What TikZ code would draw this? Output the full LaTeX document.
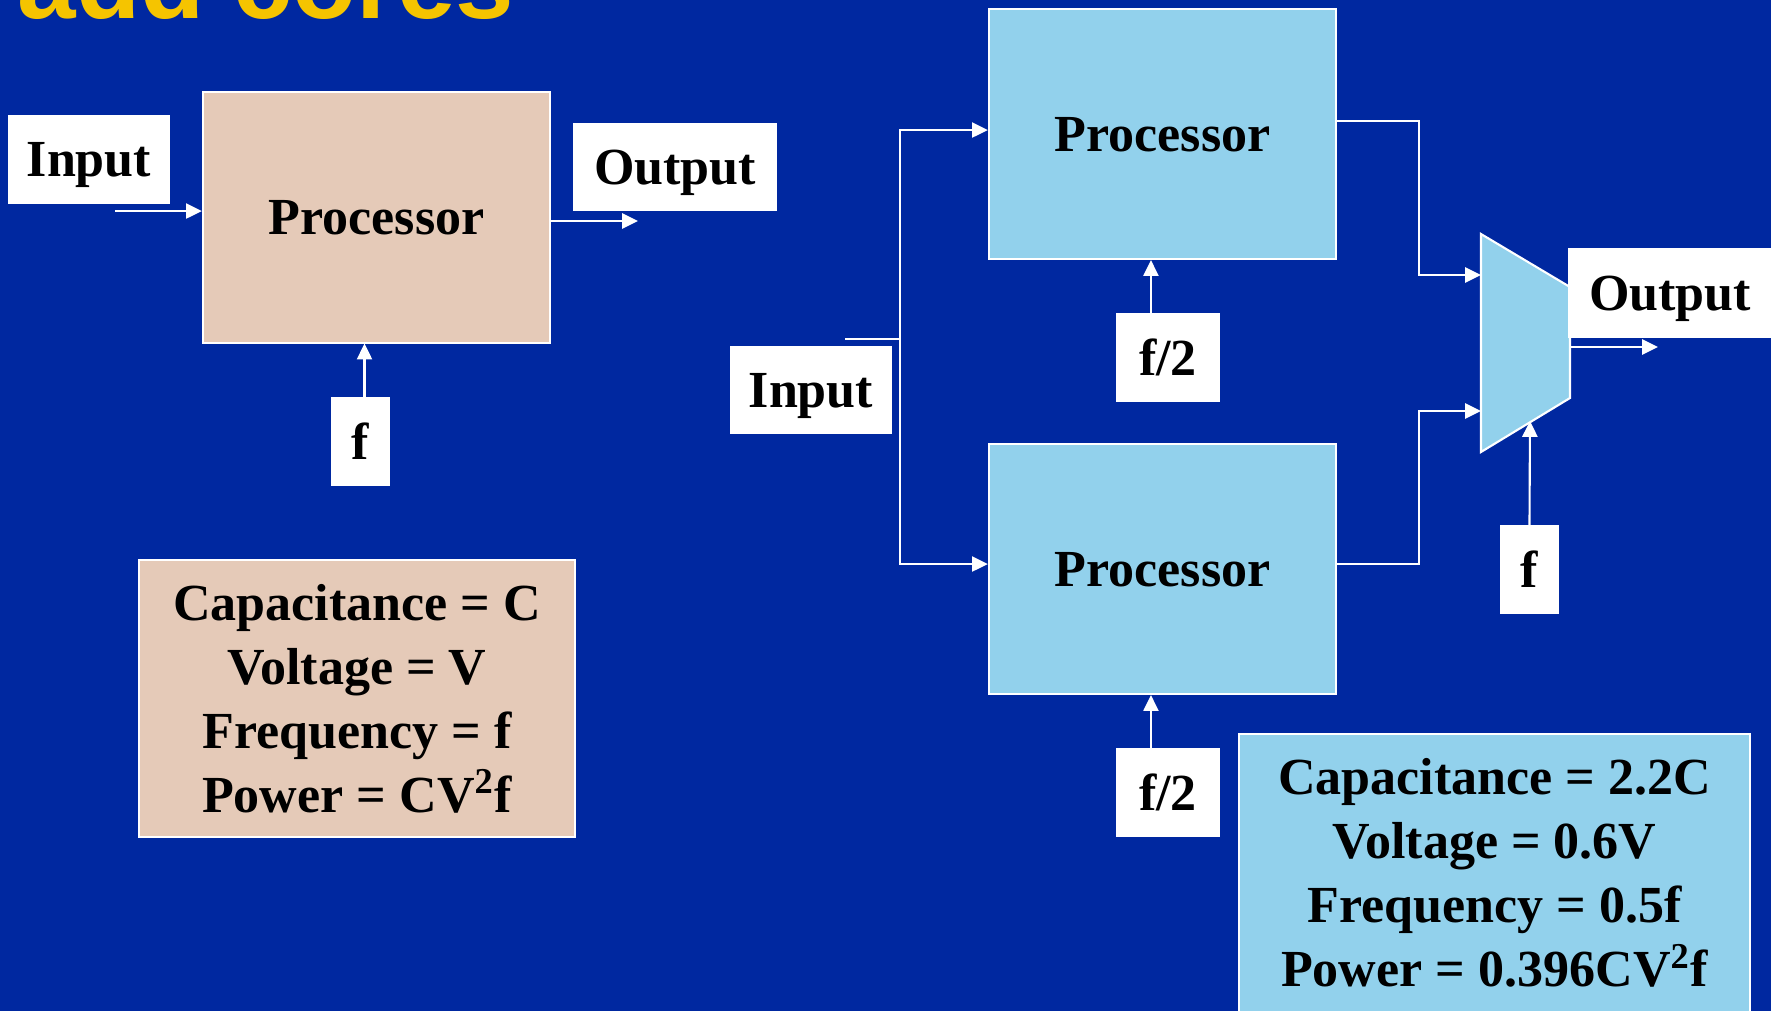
\documentclass[tikz,border=0pt]{standalone}
\usepackage{fontspec}
\setmainfont{Liberation Serif}
\newfontfamily\titlefont{Liberation Sans}
\usetikzlibrary{arrows.meta}

\definecolor{slideblue}{RGB}{0,40,160}
\definecolor{tanfill}{RGB}{229,202,184}
\definecolor{cpublue}{RGB}{146,209,236}
\definecolor{titleyellow}{RGB}{245,196,0}

\begin{document}
\begin{tikzpicture}[x = 0.01cm, y = -0.01cm,
	txt/.style = {font=\fontsize{14.8}{18.2}\selectfont\bfseries},
	tag/.style = {txt, fill=white, draw=white, inner sep=0pt, text depth=0pt},
	cpu/.style = {txt, draw=white, line width=0.6pt, inner sep=0pt, text depth=0pt, minimum width=3.47cm, minimum height=2.5cm},
	info/.style = {txt, draw=white, line width=0.6pt, inner sep=0pt, align=center, minimum height=2.77cm},
	wire/.style = {white, line width=0.6pt},
	arr/.style = {wire, -{Triangle[length=4.5pt, width=4.3pt]}}]
	% Background
	\fill[slideblue] (0, 0) rectangle (1771, 1011);
	\useasboundingbox (0, 0) rectangle (1771, 1011);
	\node[anchor=base west, inner sep=0pt, text=titleyellow, font=\titlefont\bfseries\fontsize{29.9}{30}\selectfont] (title) at (17, 18) {add cores};
	
	% Nodes (one core)
	\node[cpu, fill=tanfill] (procL) at (376.5, 217.5) {Processor};
	\node[tag, minimum width=1.6cm, minimum height=0.87cm] (inL) at (89, 159.5) {Input};
	\node[tag, minimum width=2.02cm, minimum height=0.86cm] (outL) at (675, 167) {Output};
	\node[tag, minimum width=0.57cm, minimum height=0.87cm] (fL) at (360.5, 441.5) {f};
	\node[info, fill=tanfill, minimum width=4.36cm] (infoL) at (357, 698.5) {Capacitance = C\\Voltage = V\\Frequency = f\\Power = CV\textsuperscript{2}f};
	\coordinate (inLsrc) at (115, 211);
	\coordinate (outLdst) at (638, 221);
	
	% Nodes (two cores)
	\node[cpu, fill=cpublue] (procA) at (1162.5, 134) {Processor};
	\node[cpu, fill=cpublue] (procB) at (1162.5, 569) {Processor};
	\node[tag, minimum width=1.6cm, minimum height=0.86cm] (inR) at (811, 390) {Input};
	\node[tag, minimum width=1.02cm, minimum height=0.87cm] (f2A) at (1168, 357.5) {f/2};
	\node[tag, minimum width=1.02cm, minimum height=0.87cm] (f2B) at (1168, 792.5) {f/2};
	\coordinate (muxTL) at (1481, 234);
	\coordinate (muxTR) at (1570, 287);
	\coordinate (muxBR) at (1570, 398);
	\coordinate (muxBL) at (1481, 452);
	\filldraw[fill=cpublue, draw=white, line width=0.6pt] (muxTL) -- (muxTR) -- (muxBR) -- (muxBL) -- cycle;
	\node[tag, minimum width=2.02cm, minimum height=0.88cm] (outR) at (1670, 293) {Output};
	\node[tag, minimum width=0.57cm, minimum height=0.87cm] (fR) at (1529.5, 569.5) {f};
	\node[info, fill=cpublue, minimum width=5.11cm] (infoR) at (1494.5, 873) {Capacitance = 2.2C\\Voltage = 0.6V\\Frequency = 0.5f\\Power = 0.396CV\textsuperscript{2}f};
	\coordinate (inRsrc) at (845, 339);
	\coordinate (split) at (900, 339);
	\coordinate (muxA) at (1481, 275);
	\coordinate (muxB) at (1481, 411);
	\coordinate (muxOut) at (1570, 347);
	\coordinate (outRdst) at (1658, 347);
	\coordinate (muxSel) at (1530, 421);
	
	% Edges (one core)
	\draw[arr] (inLsrc) -- (inLsrc -| procL.west);
	\draw[arr] (outLdst -| procL.east) -- (outLdst);
	\draw[arr] ([xshift=0.04cm]fL.north) -- ([xshift=0.04cm]fL.north |- procL.south);
	
	% Edges (two cores)
	\draw[wire] (inRsrc) -- (split);
	\draw[arr] (split) |- ([yshift=0.04cm]procA.west);
	\draw[arr] (split) |- ([yshift=0.05cm]procB.west);
	\draw[arr] ([xshift=-0.17cm]f2A.north) -- ([xshift=-0.17cm]f2A.north |- procA.south);
	\draw[arr] ([xshift=-0.17cm]f2B.north) -- ([xshift=-0.17cm]f2B.north |- procB.south);
	\draw[arr] ([yshift=0.13cm]procA.east) -- ++(82, 0) |- (muxA);
	\draw[arr] ([yshift=0.05cm]procB.east) -- ++(82, 0) |- (muxB);
	\draw[arr] (muxOut) -- (outRdst);
	\draw[arr] (fR.north) -- (muxSel);
\end{tikzpicture}
\end{document}
